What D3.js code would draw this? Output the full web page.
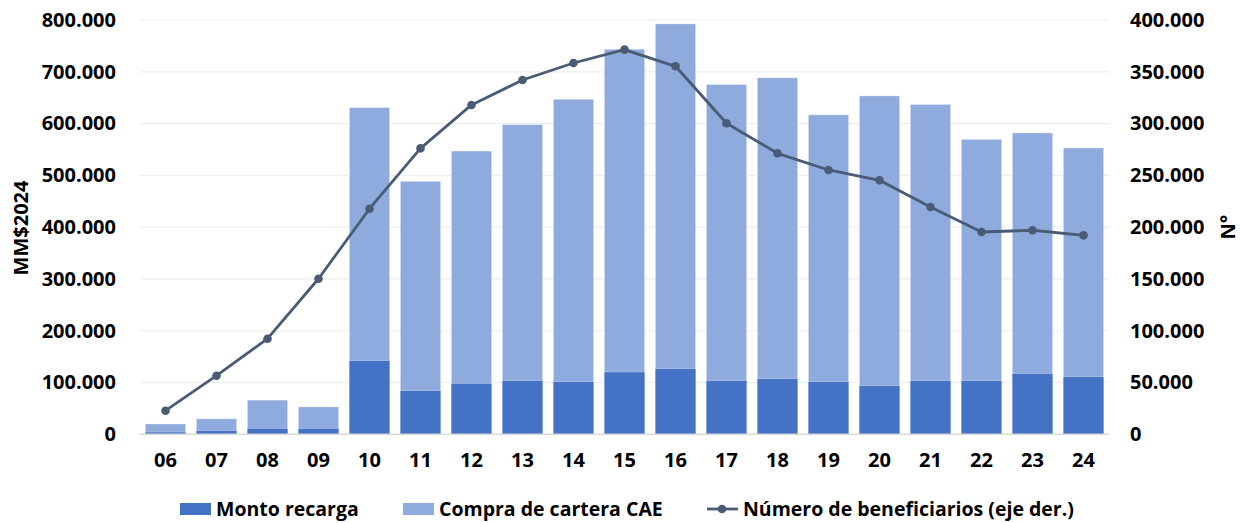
<!DOCTYPE html>
<html><head><meta charset="utf-8">
<script src="https://cdn.jsdelivr.net/npm/d3@7"></script>
<style>
html,body{margin:0;padding:0;background:#fff;}
svg{display:block;font-family:"Open Sans", Lato, sans-serif;}
</style></head>
<body>
<svg id="c" width="1240" height="523"></svg>
<script>
const categories = ["06","07","08","09","10","11","12","13","14","15","16","17","18","19","20","21","22","23","24"];
const montoRecarga = [4000,7000,11000,11000,142000,84000,98000,103500,101000,120000,126500,103500,107000,101000,93500,103000,103000,117000,110500];
const totalMonto = [20000,30000,66000,53000,631000,488500,547000,598000,647000,743500,792500,675500,688500,617000,653500,637000,569500,582000,553000];
const compraCartera = totalMonto.map((t,i)=>t-montoRecarga[i]);
const beneficiarios = [22800,56600,92300,150200,217800,276100,318000,342100,358500,371400,355300,300300,271300,255200,245200,219500,195300,197000,192100];
const leftTicks = [0,100000,200000,300000,400000,500000,600000,700000,800000];
const rightTicks = [0,50000,100000,150000,200000,250000,300000,350000,400000];
const seriesNames = ["Monto recarga","Compra de cartera CAE","Número de beneficiarios (eje der.)"];

const colDark = "#4472C4", colLight = "#8FAADC", colLine = "#4A5B75";
const loc = d3.formatLocale({decimal:",", thousands:".", grouping:[3], currency:["$",""]});
const fmt = loc.format(",.0f");

const svg = d3.select("#c");
const x = d3.scaleBand().domain(categories).range([140,1109]).paddingInner(0.21).paddingOuter(0.105);
const yL = d3.scaleLinear().domain([0,800000]).range([434.3,20]);
const yR = d3.scaleLinear().domain([0,400000]).range([434.3,20]);

// gridlines
svg.append("g").selectAll("line").data(leftTicks.slice(1)).join("line")
  .attr("x1",140).attr("x2",1109).attr("y1",d=>yL(d)).attr("y2",d=>yL(d))
  .attr("stroke","#ededed").attr("stroke-width",1.2);

// bars
const g = svg.append("g");
g.selectAll("rect.l").data(categories).join("rect").attr("class","l")
  .attr("x",d=>x(d)).attr("width",x.bandwidth())
  .attr("y",(d,i)=>yL(totalMonto[i])).attr("height",(d,i)=>yL(montoRecarga[i])-yL(totalMonto[i]))
  .attr("fill",colLight).attr("stroke","rgba(255,255,255,0.35)").attr("stroke-width",1);
g.selectAll("rect.d").data(categories).join("rect").attr("class","d")
  .attr("x",d=>x(d)).attr("width",x.bandwidth())
  .attr("y",(d,i)=>yL(montoRecarga[i])).attr("height",(d,i)=>yL(0)-yL(montoRecarga[i]))
  .attr("fill",colDark);

// baseline
svg.append("line").attr("x1",140).attr("x2",1109).attr("y1",yL(0)).attr("y2",yL(0))
  .attr("stroke","#d9d9d9").attr("stroke-width",1.5);

// line
const line = d3.line().x((d,i)=>x(categories[i])+x.bandwidth()/2).y(d=>yR(d));
svg.append("path").datum(beneficiarios).attr("d",line).attr("fill","none")
  .attr("stroke",colLine).attr("stroke-width",2.8).attr("stroke-linejoin","round");
svg.append("g").selectAll("circle").data(beneficiarios).join("circle")
  .attr("cx",(d,i)=>x(categories[i])+x.bandwidth()/2).attr("cy",d=>yR(d)).attr("r",4.3)
  .attr("fill",colLine);

// axes
const axL = svg.append("g").attr("transform","translate(124,0)")
  .call(d3.axisLeft(yL).tickValues(leftTicks).tickFormat(fmt).tickSize(0).tickPadding(8));
const axR = svg.append("g").attr("transform","translate(1122,0)")
  .call(d3.axisRight(yR).tickValues(rightTicks).tickFormat(fmt).tickSize(0).tickPadding(8));
const axB = svg.append("g").attr("transform","translate(0,440)")
  .call(d3.axisBottom(x).tickSize(0).tickPadding(10));
[axL,axR,axB].forEach(a=>{
  a.select(".domain").remove();
  a.selectAll("text").attr("font-family","'Open Sans', sans-serif").attr("font-weight","bold")
   .attr("font-size",20).attr("fill","#000");
});
axB.selectAll("text").attr("dy","0.85em");

// axis titles
svg.append("text").attr("transform","translate(28,228) rotate(-90)").attr("text-anchor","middle")
  .attr("font-weight","bold").attr("font-size",20).text("MM$2024");
svg.append("text").attr("transform","translate(1235,227) rotate(-90)").attr("text-anchor","middle")
  .attr("font-weight","bold").attr("font-size",20).text("N°");

// legend
const lg = svg.append("g").attr("font-weight","bold").attr("font-size",19.5);
lg.append("rect").attr("x",180).attr("y",503).attr("width",31).attr("height",12).attr("fill",colDark);
lg.append("text").attr("x",216).attr("y",509).attr("dy","0.35em").text(seriesNames[0]);
lg.append("rect").attr("x",403).attr("y",503).attr("width",31).attr("height",12).attr("fill",colLight);
lg.append("text").attr("x",439).attr("y",509).attr("dy","0.35em").text(seriesNames[1]);
lg.append("line").attr("x1",707).attr("x2",738).attr("y1",509).attr("y2",509).attr("stroke",colLine).attr("stroke-width",2.8);
lg.append("circle").attr("cx",722).attr("cy",509).attr("r",4.3).attr("fill",colLine);
lg.append("text").attr("x",743).attr("y",509).attr("dy","0.35em").text(seriesNames[2]);
</script>
</body></html>
